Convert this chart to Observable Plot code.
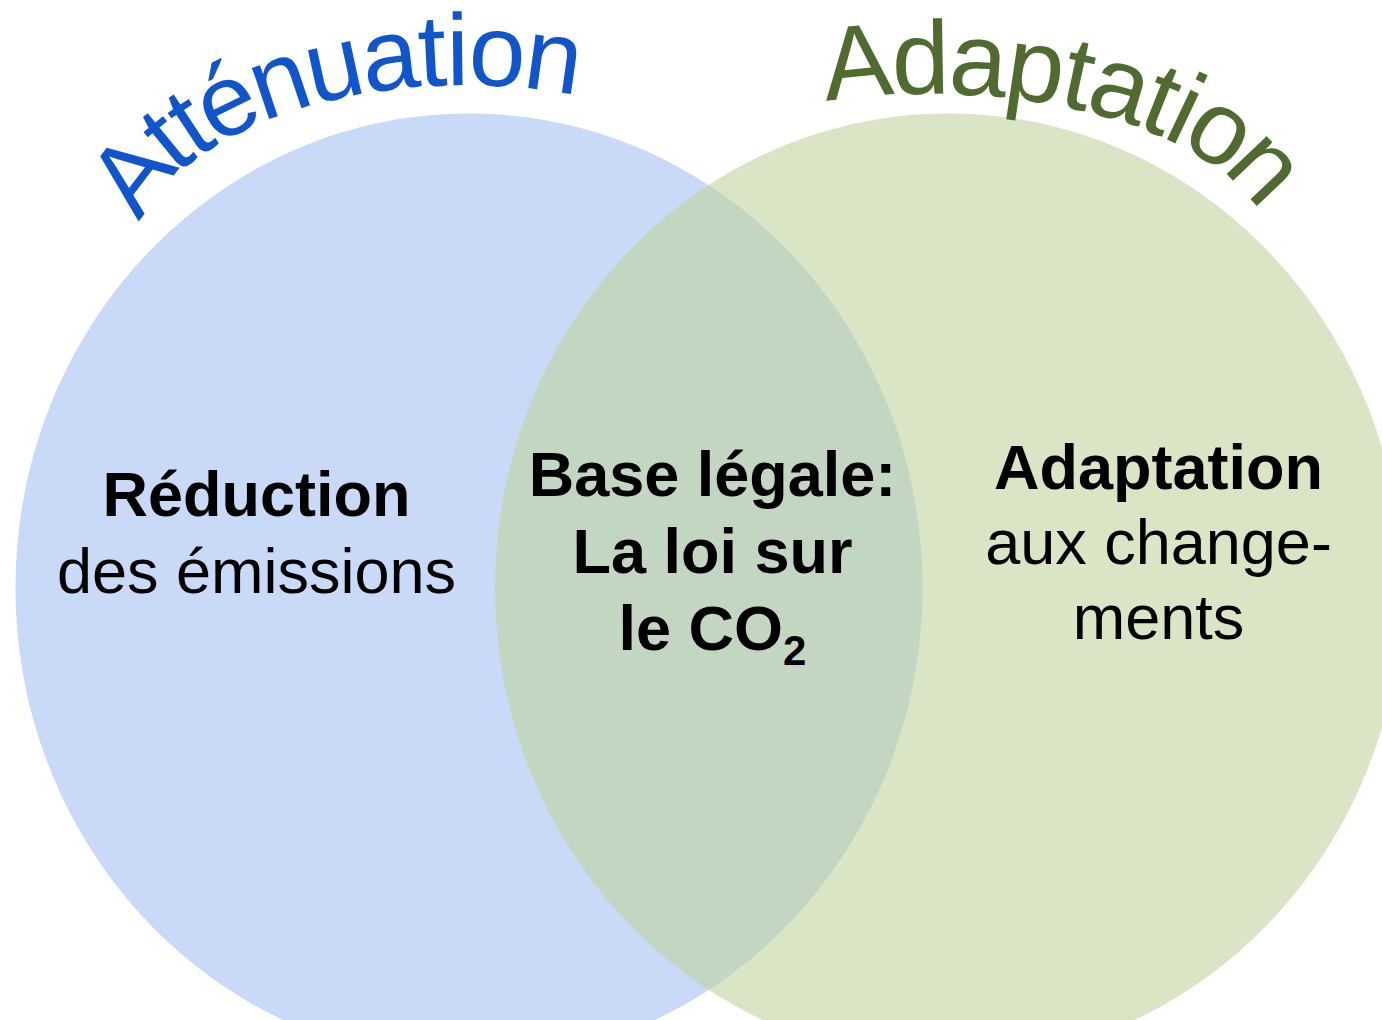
<!DOCTYPE html>
<html>
<head>
<meta charset="utf-8">
<script src="https://cdn.jsdelivr.net/npm/d3@7"></script>
<script src="https://cdn.jsdelivr.net/npm/@observablehq/plot@0.6"></script>
<style>
  html, body { margin: 0; padding: 0; background: #ffffff; }
  #chart { width: 1382px; height: 1020px; overflow: hidden; }
</style>
</head>
<body>
<div id="chart"></div>
<script>
// ---------- data ----------
const setNames = ["Atténuation", "Adaptation"];
const leftLines = ["Réduction", "des émissions"];
const centerLines = ["Base légale:", "La loi sur", "le CO"];
const centerSubscript = "2";
const rightLines = ["Adaptation", "aux change-", "ments"];
const leftBold = [true, false];
const centerBold = [true, true, true];
const rightBold = [true, false, false];

// ---------- layout (diagram units = pixels) ----------
const W = 1382, H = 1020;
const circleCx = [468.5, 948];
const circleCy = [587, 587];
const circleRx = [453.5, 453.5];
const circleAspect = 474 / 453.5;   // vertical / horizontal radius
// ellipse arcs carrying the curved set titles (anchor path), start angle of first glyph (deg)
const titleArcs = [
  {cx: 465, cy: 253, a: 361, b: 201, start: 157, size: 102},
  {cx: 930, cy: 246, a: 371, b: 186, start: 101.4, size: 104}
];
const regionX = [256, 712, 1158];
const regionBaseline = [515, 495, 488];
const regionStep = [77, 77, 75];
const labelSize = 63;
const subSize = 42;
const subDrop = 15;

// ---------- styles ----------
const FONT = "'Liberation Sans', Arial, Helvetica, sans-serif";
const circleFill = ["#c9daf8", "rgb(192,212,158)"];
const circleOpacity = [1, 0.6];
const titleColor = ["#1155cc", "#4f6b30"];

// ---------- helpers ----------
const ctx = document.createElement("canvas").getContext("2d");
function measure(text, size, weight) {
  ctx.font = `${weight || "normal"} ${size}px ${FONT}`;
  return ctx.measureText(text).width;
}

// elliptical dot symbol (r = horizontal radius)
const K = 0.5522847498;
const ellipseSymbol = {
  draw(context, size) {
    const rx = Math.sqrt(size / Math.PI), ry = rx * circleAspect;
    const kx = rx * K, ky = ry * K;
    context.moveTo(rx, 0);
    context.bezierCurveTo(rx, ky, kx, ry, 0, ry);
    context.bezierCurveTo(-kx, ry, -rx, ky, -rx, 0);
    context.bezierCurveTo(-rx, -ky, -kx, -ry, 0, -ry);
    context.bezierCurveTo(kx, -ry, rx, -ky, rx, 0);
    context.closePath();
  }
};

function arcLetters(text, arc) {
  const chars = Array.from(text);
  const w = chars.map(c => measure(c, arc.size));
  const N = 8000;
  const t0 = arc.start * Math.PI / 180, t1 = t0 - Math.PI * 1.2;
  const pts = [];
  let s = 0;
  for (let k = 0; k <= N; k++) {
    const t = t0 + (t1 - t0) * k / N;
    const x = arc.cx + arc.a * Math.cos(t);
    const y = arc.cy - arc.b * Math.sin(t);
    if (k > 0) s += Math.hypot(x - pts[k - 1].x, y - pts[k - 1].y);
    pts.push({t, x, y, s});
  }
  let acc = 0;
  return chars.map((c, i) => {
    const target = acc + w[i] / 2 - w[0] / 2;
    acc += w[i];
    let k = pts.findIndex(p => p.s >= target);
    if (k < 0) k = N;
    const p = pts[k];
    const rot = Math.atan2(arc.b * Math.cos(p.t), arc.a * Math.sin(p.t)) * 180 / Math.PI;
    return {ch: c, x: p.x, y: p.y, rotate: rot};
  });
}

const circles = setNames.map((name, i) => ({name, cx: circleCx[i], cy: circleCy[i], r: circleRx[i]}));

const regions = [
  {lines: leftLines, bold: leftBold},
  {lines: centerLines, bold: centerBold},
  {lines: rightLines, bold: rightBold}
];
const labelRows = [];
regions.forEach((reg, i) => {
  reg.lines.forEach((line, j) => {
    labelRows.push({
      text: line,
      bold: reg.bold[j],
      x: regionX[i],
      y: regionBaseline[i] + j * regionStep[i] - 0.32 * labelSize,
      isCO: i === 1 && j === reg.lines.length - 1
    });
  });
});
// "le CO" + subscript centred together
const coRow = labelRows.find(d => d.isCO);
const wCO = measure(coRow.text, labelSize, "bold");
const wSub = measure(centerSubscript, subSize, "bold");
const coStart = coRow.x - (wCO + wSub) / 2;
const coRows = [{text: coRow.text, x: coStart, y: coRow.y}];
const subRows = [{text: centerSubscript, x: coStart + wCO, y: coRow.y + 0.32 * labelSize + subDrop - 0.32 * subSize}];
const boldRows = labelRows.filter(d => d.bold && !d.isCO);
const regRows = labelRows.filter(d => !d.bold);

const titleMarks = setNames.map((name, i) =>
  Plot.text(arcLetters(name, titleArcs[i]), {
    x: "x", y: "y", text: "ch", rotate: "rotate",
    fontSize: titleArcs[i].size, fontFamily: FONT, fill: titleColor[i],
    textAnchor: "middle", lineAnchor: "middle"
  })
);

const plot = Plot.plot({
  width: W,
  height: H,
  margin: 0,
  style: {background: "#ffffff", overflow: "hidden"},
  x: {domain: [0, W], range: [0, W], axis: null},
  y: {domain: [0, H], range: [0, H], axis: null},
  r: {type: "linear", domain: [0, W], range: [0, W]},
  marks: [
    Plot.dot([circles[0]], {x: "cx", y: "cy", r: "r", symbol: ellipseSymbol, fill: circleFill[0], fillOpacity: circleOpacity[0], stroke: null}),
    Plot.dot([circles[1]], {x: "cx", y: "cy", r: "r", symbol: ellipseSymbol, fill: circleFill[1], fillOpacity: circleOpacity[1], stroke: null}),
    ...titleMarks,
    Plot.text(boldRows, {x: "x", y: "y", text: "text", fontSize: labelSize, fontWeight: "bold", fontFamily: FONT, fill: "#000", textAnchor: "middle", lineAnchor: "middle"}),
    Plot.text(regRows, {x: "x", y: "y", text: "text", fontSize: labelSize, fontWeight: "normal", fontFamily: FONT, fill: "#000", textAnchor: "middle", lineAnchor: "middle"}),
    Plot.text(coRows, {x: "x", y: "y", text: "text", fontSize: labelSize, fontWeight: "bold", fontFamily: FONT, fill: "#000", textAnchor: "start", lineAnchor: "middle"}),
    Plot.text(subRows, {x: "x", y: "y", text: "text", fontSize: subSize, fontWeight: "bold", fontFamily: FONT, fill: "#000", textAnchor: "start", lineAnchor: "middle"})
  ]
});
document.getElementById("chart").appendChild(plot);
</script>
</body>
</html>
